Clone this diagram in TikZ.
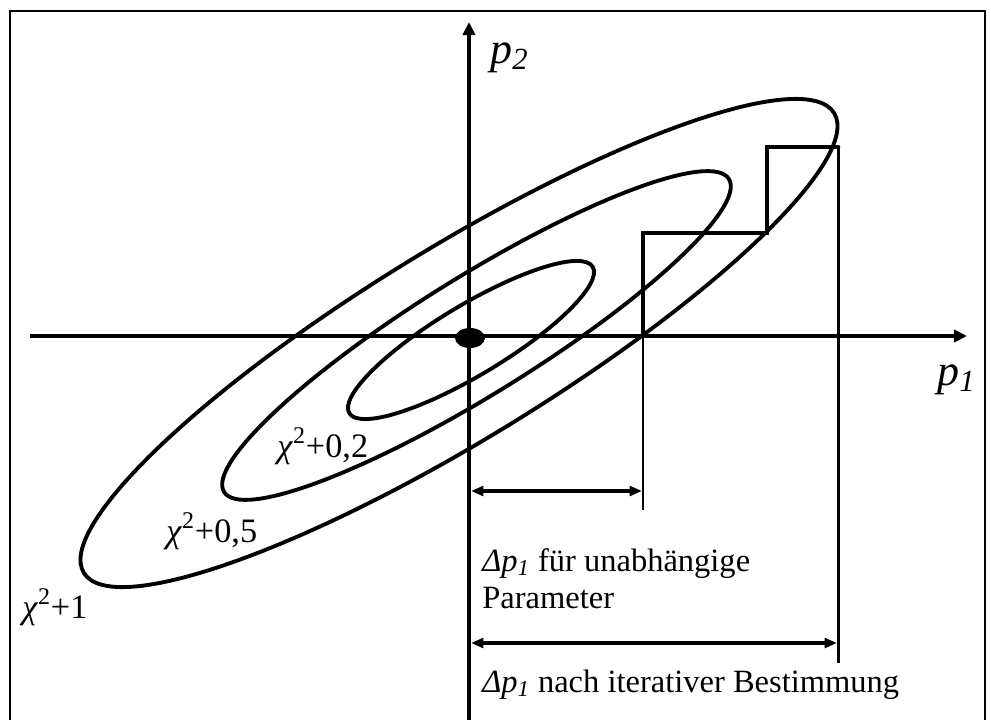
\documentclass[tikz,border=0pt]{standalone}
\usepackage{fontspec}
\setmainfont{Liberation Serif}
\usetikzlibrary{arrows.meta,shapes.geometric}
\begin{document}
\begin{tikzpicture}[x=0.02cm,y=-0.02cm,
  frame/.style={line width=1.2pt},
  axis/.style={line width=2.6pt},
  axtip/.style={-{Triangle[length=7.5pt,width=7pt]}},
  ell/.style={line width=2.2pt},
  stepline/.style={line width=2.6pt, line cap=round, line join=miter},
  dropline/.style={line width=1.7pt},
  dim/.style={line width=1.9pt, {Triangle[length=7pt,width=5.5pt]}-{Triangle[length=7pt,width=5.5pt]}},
  axlbl/.style={font=\fontsize{25}{30}\selectfont, inner sep=0pt},
  chilbl/.style={font=\fontsize{19.5}{22}\selectfont, inner sep=0pt, anchor=base west},
  txt/.style={font=\fontsize{18.5}{21}\selectfont, inner sep=0pt, align=left}]
\useasboundingbox (0,0) rectangle (991,720);
% frame
\draw[frame] (10,720) -- (10,11) -- (985,11) -- (985,720);
% axes
\coordinate (xs) at (30,336);
\coordinate (xe) at (967,336);
\coordinate (ys) at (469,720);
\coordinate (ye) at (469,22);
\draw[axis,axtip] (xs) -- (xe);
\draw[axis,axtip] (ys) -- (ye);
% ellipses
\coordinate (c1) at (459,343);
\coordinate (c2) at (476.5,335.5);
\coordinate (c3) at (471,340);
\draw[ell, rotate around={31.5:(c1)}] (c1) ellipse [x radius=440, y radius=96];
\draw[ell, rotate around={31.8:(c2)}] (c2) ellipse [x radius=297, y radius=59];
\draw[ell, rotate around={31:(c3)}] (c3) ellipse [x radius=142, y radius=35];
% centre dot
\node[fill=black, ellipse, minimum width=0.6cm, minimum height=0.4cm, inner sep=0pt] (O) at (470,338) {};
% steps
\coordinate (A) at (643,336);
\coordinate (B) at (643,233);
\coordinate (C) at (767,233);
\coordinate (D) at (767,147);
\coordinate (E) at (838,147);
\coordinate (A2) at (643,510);
\coordinate (E2) at (838,663);
\draw[stepline] (A) -- (B) -- (C) -- (D) -- (E);
\draw[dropline] (A) -- (A2);
\draw[dropline] (E) -- (E2);
% dimension arrows
\coordinate (d1s) at (471,491);
\coordinate (d1e) at (642,491);
\coordinate (d2s) at (471,643);
\coordinate (d2e) at (837,643);
\draw[dim] (d1s) -- (d1e);
\draw[dim] (d2s) -- (d2e);
% labels
\node[axlbl, anchor=base west] (p2) at (490,63) {\textit{p}\textsubscript{\textit{2}}};
\node[axlbl, anchor=base west] (p1) at (937,385) {\textit{p}\textsubscript{\textit{1}}};
\node[chilbl] (k02) at (277,457) {\textit{χ}\textsuperscript{2}+0,2};
\node[chilbl] (k05) at (166,542) {\textit{χ}\textsuperscript{2}+0,5};
\node[chilbl] (k1) at (22,618) {\textit{χ}\textsuperscript{2}+1};
\node[txt, anchor=north west] (t1) at (482,548) {\textit{Δp}\textsubscript{\textit{1}} für unabhängige\\Parameter};
\node[txt, anchor=base west] (t2) at (482,692) {\textit{Δp}\textsubscript{\textit{1}} nach iterativer Bestimmung};
\end{tikzpicture}
\end{document}
